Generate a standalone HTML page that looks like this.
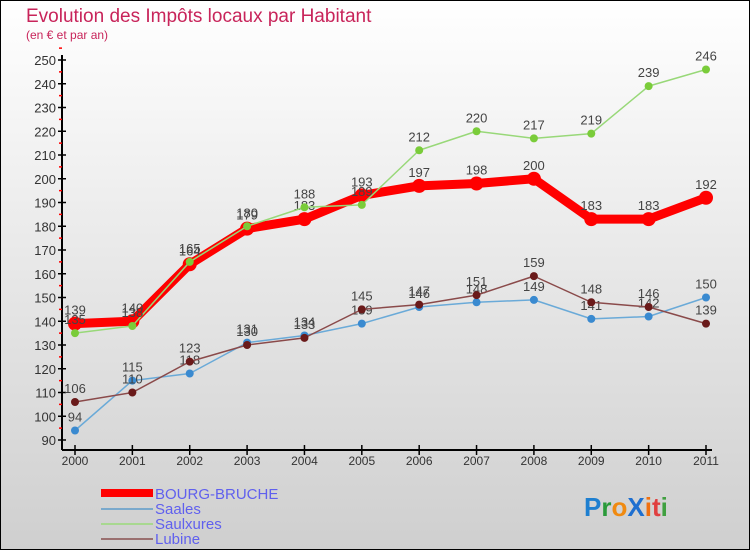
<!DOCTYPE html>
<html><head><meta charset="utf-8"><style>
body{margin:0;width:750px;height:550px;overflow:hidden;font-family:"Liberation Sans",sans-serif}
</style></head><body>
<svg width="750" height="550" xmlns="http://www.w3.org/2000/svg">
<defs><linearGradient id="bg" x1="0" y1="0" x2="0" y2="1"><stop offset="0" stop-color="#ffffff"/><stop offset="1" stop-color="#cfcfcf"/></linearGradient></defs>
<rect x="0.5" y="0.5" width="749" height="549" fill="url(#bg)" stroke="#000"/>
<text x="26" y="22" font-size="19" fill="#c8245a">Evolution des Impôts locaux par Habitant</text>
<text x="26" y="39" font-size="12" fill="#c8245a">(en € et par an)</text>
<g id="axes"></g>
<g id="series"></g>
<g>
<rect x="101" y="489" width="52" height="8" fill="#f00"/>
<text x="155" y="499" font-size="15" fill="#6060ee">BOURG-BRUCHE</text>
<rect x="101" y="508" width="52" height="2" fill="#7aa9cc"/>
<text x="155" y="514" font-size="15" fill="#6060ee">Saales</text>
<rect x="101" y="523" width="52" height="2" fill="#a8d890"/>
<text x="155" y="529" font-size="15" fill="#6060ee">Saulxures</text>
<rect x="101" y="538" width="52" height="2" fill="#9a7070"/>
<text x="155" y="544" font-size="15" fill="#6060ee">Lubine</text>
</g>
<g font-size="26" font-weight="bold">
<text x="584" y="516"><tspan fill="#1e7fd0">P</tspan><tspan fill="#2a9a3a">r</tspan><tspan fill="#f08a10">o</tspan><tspan fill="#1e6fd0">X</tspan><tspan fill="#f07010">i</tspan><tspan fill="#e04040">t</tspan><tspan fill="#40a040">i</tspan></text>
</g>
</svg>
<script>
const years=["2000","2001","2002","2003","2004","2005","2006","2007","2008","2009","2010","2011"];
const yTicks=[90,100,110,120,130,140,150,160,170,180,190,200,210,220,230,240,250];
const bourg=[139,140,164,179,183,193,197,198,200,183,183,192];
const saales=[94,115,118,131,134,139,146,148,149,141,142,150];
const saulxures=[135,138,165,180,188,189,212,220,217,219,239,246];
const lubine=[106,110,123,130,133,145,147,151,159,148,146,139];
const NS="http://www.w3.org/2000/svg";
const X=i=>75+i*(706-75)/11;
const Y=v=>440-(v-90)*2.375;
function mk(tag,attrs,parent){const e=document.createElementNS(NS,tag);for(const k in attrs)e.setAttribute(k,attrs[k]);parent.appendChild(e);return e;}
const ax=document.getElementById('axes');
const yl=mk('line',{x1:62,y1:Y(250)-5,x2:62,y2:450,stroke:'#000','stroke-width':2},ax);


const xl=mk('line',{x1:62,y1:450,x2:712,y2:450,stroke:'#000','stroke-width':2},ax);


yTicks.forEach(v=>{
  mk('line',{x1:58,y1:Y(v),x2:66,y2:Y(v),stroke:'#000','stroke-width':1.5},ax);
  mk('line',{x1:59,y1:Y(v+5),x2:62,y2:Y(v+5),stroke:'#f00','stroke-width':1.5},ax);
  const t=mk('text',{x:56,y:Y(v)+5,'font-size':13,fill:'#333','text-anchor':'end'},ax);
  t.textContent=v;
  
  
});
years.forEach((y,i)=>{
  mk('line',{x1:X(i),y1:445,x2:X(i),y2:455,stroke:'#000','stroke-width':1.5},ax);
  const t=mk('text',{x:X(i),y:465,'font-size':12,fill:'#333','text-anchor':'middle'},ax);
  t.textContent=y;
  
  
});
const sg=document.getElementById('series');
function draw(name,data,color,w,r,dot){
  const g=mk('g',{},sg);
  
  
  const pl=mk('polyline',{points:data.map((v,i)=>X(i)+','+Y(v)).join(' '),fill:'none',stroke:color,'stroke-width':w,'stroke-linejoin':'round'},g);
  
  
  data.forEach((v,i)=>{
    const c=mk('circle',{cx:X(i),cy:Y(v),r:r,fill:dot},g);
    
    
    const t=mk('text',{x:X(i),y:Y(v)-9,'font-size':13,fill:'#444','text-anchor':'middle'},g);
    t.textContent=v;
    
    
  });
}
draw('saales',saales,'#6aaad8',1.5,4,'#3a8ad0');
draw('lubine',lubine,'#8a4a4a',1.5,4,'#6a1a1a');
draw('bourg-bruche',bourg,'#f00',9,7,'#f00');
draw('saulxures',saulxures,'#98d878',1.5,4,'#7acc3a');
</script>
</body></html>
